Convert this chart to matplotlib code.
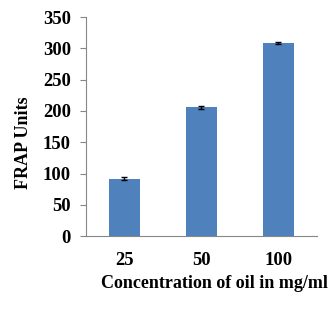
import matplotlib.pyplot as plt
import numpy as np

# Data
concentrations = ['25', '50', '100']
frap_units = [92, 206, 308.5]
frap_err = [2.5, 2.5, 1.5]

plt.rcParams['font.family'] = 'Liberation Serif'
plt.rcParams['font.weight'] = 'bold'

fig = plt.figure(figsize=(3.33, 3.12), dpi=100)
ax = fig.add_axes([0.258, 0.2426, 0.694, 0.7029])

x = np.arange(len(concentrations))
ax.bar(x, frap_units, width=0.4, color='#4f81bd',
       yerr=frap_err, capsize=2.5,
       error_kw=dict(ecolor='black', elinewidth=1, capthick=1))

ax.set_xlim(-0.5, 2.5)
ax.set_ylim(0, 350)
ax.set_yticks(np.arange(0, 351, 50))
ax.set_xticks(x)
ax.set_xticklabels(concentrations)

for side in ['top', 'right']:
    ax.spines[side].set_visible(False)
for side in ['left', 'bottom']:
    ax.spines[side].set_color('#868686')
    ax.spines[side].set_linewidth(0.8)

ax.tick_params(axis='y', colors='#868686', length=4.3, width=0.8, labelcolor='black',
               labelsize=13.4, pad=6.5)
ax.tick_params(axis='x', length=0, labelsize=13.4, pad=11)

fig.text(0.072, 1 - 143 / 312, 'FRAP Units', ha='center', va='center',
         rotation=90, fontsize=13, fontweight='bold')
fig.text(0.643, 0.09, 'Concentration of oil in mg/ml', ha='center', va='center',
         fontsize=13, fontweight='bold')

fig.savefig('out.png', dpi=100)
